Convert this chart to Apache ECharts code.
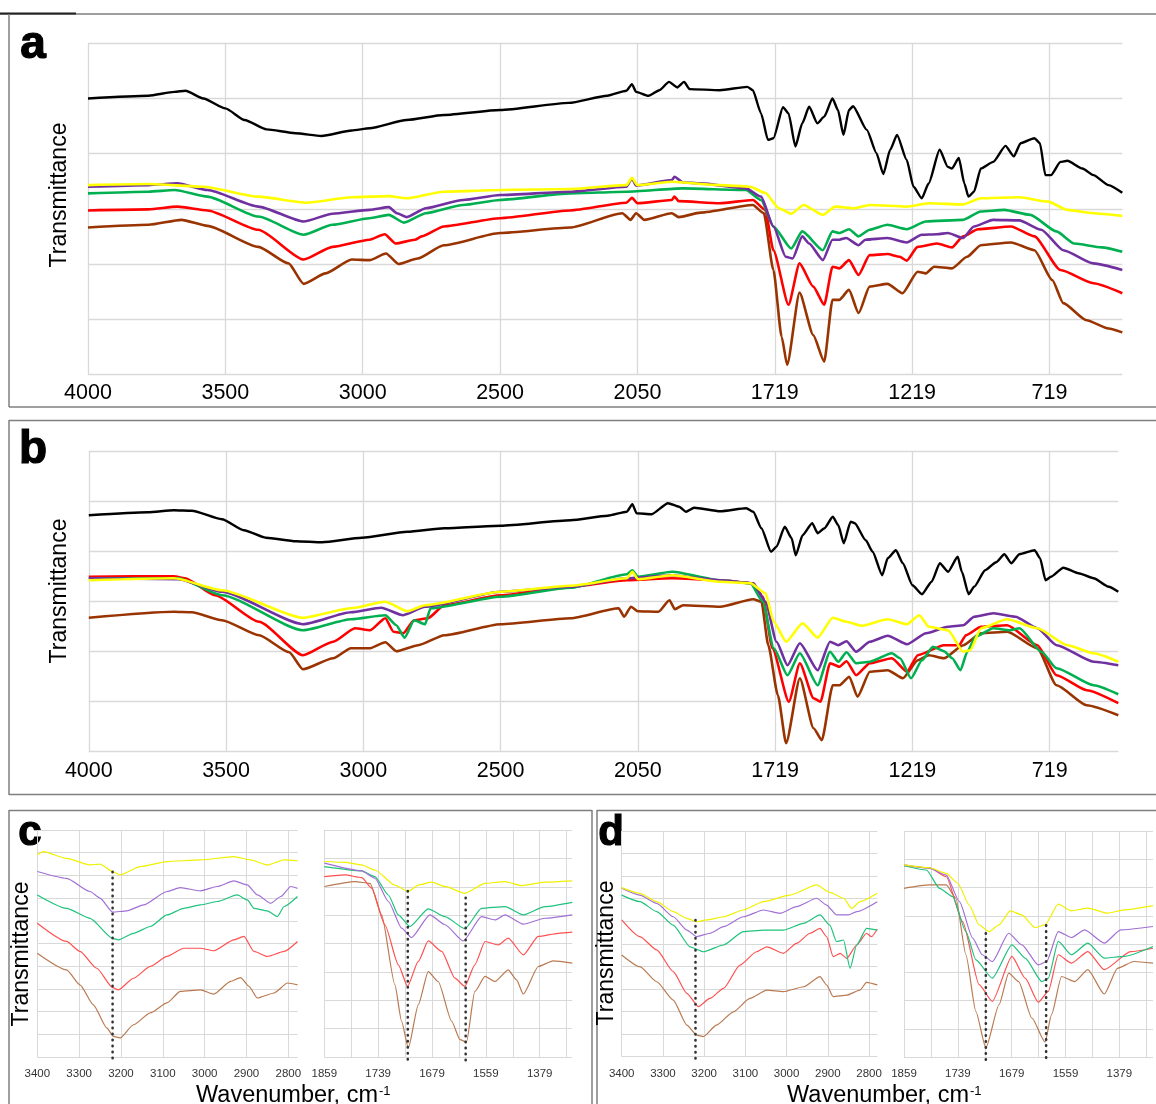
<!DOCTYPE html>
<html><head><meta charset="utf-8">
<script src="https://cdn.jsdelivr.net/npm/echarts@6/dist/echarts.min.js"></script>
<style>html,body{margin:0;padding:0;background:#fff}#c{width:1156px;height:1104px}</style>
</head><body><div id="c"></div>
<script>
// ---------- tick labels ----------
const mainTickLabels = ['4000','3500','3000','2500','2050','1719','1219','719'];
const zoomTickLabels = ['1859','','1739','','1679','','1559','','1379',''];

// ---------- panel a (x = tick position, y = grid units 0..6) ----------
const aBlack = [[0,5.0],[0.44,5.05],[0.63,5.12],[0.71,5.14],[0.84,5.0],[1.0,4.82],[1.14,4.61],[1.3,4.44],[1.51,4.37],[1.7,4.32],[1.92,4.42],[2.05,4.46],[2.32,4.61],[2.59,4.7],[3.0,4.79],[3.5,4.92],[3.78,5.05],[3.92,5.14],[3.96,5.26],[3.99,5.12],[4.08,5.05],[4.16,5.15],[4.23,5.3],[4.29,5.2],[4.34,5.3],[4.38,5.17],[4.6,5.15],[4.8,5.21],[4.84,5.15],[4.9,4.73],[4.95,4.25],[4.99,4.28],[5.06,4.84],[5.1,4.73],[5.15,4.13],[5.2,4.55],[5.25,4.85],[5.31,4.55],[5.36,4.67],[5.42,5.0],[5.46,4.79],[5.5,4.34],[5.54,4.79],[5.57,4.86],[5.67,4.43],[5.74,4.01],[5.79,3.63],[5.84,4.07],[5.89,4.34],[5.96,3.89],[6.01,3.4],[6.07,3.19],[6.12,3.46],[6.2,4.07],[6.26,3.76],[6.29,3.73],[6.34,3.92],[6.38,3.46],[6.41,3.22],[6.45,3.31],[6.5,3.73],[6.59,3.85],[6.68,4.14],[6.74,3.95],[6.79,4.19],[6.89,4.28],[6.93,4.19],[6.97,3.61],[7.01,3.61],[7.08,3.85],[7.13,3.87],[7.24,3.73],[7.32,3.61],[7.43,3.43],[7.53,3.29]];
const aYellow = [[0,3.43],[0.44,3.45],[0.84,3.4],[1.24,3.22],[1.59,3.11],[1.92,3.21],[2.19,3.23],[2.32,3.19],[2.59,3.31],[3.0,3.34],[3.51,3.36],[3.92,3.43],[3.96,3.56],[4.0,3.43],[4.25,3.49],[4.6,3.43],[4.82,3.4],[4.93,3.29],[5.03,3.01],[5.12,2.91],[5.21,3.07],[5.35,2.89],[5.44,3.04],[5.58,3.01],[5.69,3.07],[5.96,3.04],[6.12,3.1],[6.37,3.08],[6.5,3.19],[6.78,3.21],[6.99,3.13],[7.13,2.98],[7.32,2.92],[7.53,2.87]];
const aPurple = [[0,3.4],[0.44,3.43],[0.65,3.46],[0.87,3.34],[1.24,3.04],[1.57,2.77],[1.78,2.91],[2.05,2.98],[2.19,3.03],[2.25,2.92],[2.32,2.85],[2.46,3.01],[2.73,3.16],[3.0,3.25],[3.51,3.31],[3.92,3.4],[3.96,3.55],[3.99,3.42],[4.25,3.52],[4.27,3.58],[4.33,3.48],[4.46,3.46],[4.79,3.37],[4.9,3.22],[4.99,2.68],[5.08,2.13],[5.13,2.1],[5.2,2.5],[5.25,2.37],[5.35,2.07],[5.42,2.44],[5.47,2.44],[5.52,2.47],[5.61,2.34],[5.66,2.44],[5.82,2.47],[5.96,2.39],[6.07,2.53],[6.18,2.54],[6.26,2.56],[6.37,2.47],[6.45,2.68],[6.59,2.8],[6.78,2.79],[6.94,2.62],[7.1,2.25],[7.32,2.01],[7.53,1.89]];
const aGreen = [[0,3.28],[0.44,3.31],[0.63,3.34],[0.87,3.22],[1.24,2.86],[1.57,2.53],[1.78,2.71],[2.05,2.83],[2.19,2.89],[2.3,2.75],[2.46,2.92],[2.73,3.07],[3.0,3.16],[3.51,3.28],[3.92,3.31],[4.33,3.37],[4.79,3.34],[4.9,3.16],[4.99,2.68],[5.12,2.28],[5.2,2.59],[5.35,2.25],[5.42,2.59],[5.47,2.56],[5.54,2.63],[5.61,2.5],[5.69,2.62],[5.82,2.71],[5.96,2.63],[6.1,2.77],[6.37,2.8],[6.5,2.95],[6.67,2.98],[6.86,2.89],[7.05,2.59],[7.18,2.37],[7.38,2.3],[7.53,2.22]];
const aRed = [[0,2.97],[0.44,2.99],[0.65,3.04],[0.87,2.97],[1.24,2.62],[1.57,2.08],[1.78,2.31],[2.05,2.44],[2.16,2.54],[2.24,2.37],[2.38,2.44],[2.43,2.5],[2.59,2.68],[3.0,2.83],[3.51,2.97],[3.92,3.11],[3.96,3.2],[4.0,3.1],[4.25,3.16],[4.27,3.22],[4.3,3.14],[4.6,3.1],[4.84,3.16],[4.93,2.98],[4.99,2.25],[5.1,1.26],[5.18,2.01],[5.28,1.59],[5.36,1.26],[5.42,1.95],[5.47,1.92],[5.54,2.07],[5.61,1.8],[5.69,2.16],[5.82,2.18],[5.91,2.13],[5.96,2.06],[6.04,2.31],[6.18,2.37],[6.29,2.3],[6.37,2.5],[6.48,2.63],[6.72,2.68],[6.89,2.5],[7.08,1.89],[7.32,1.65],[7.53,1.47]];
const aBrown = [[0,2.66],[0.44,2.71],[0.68,2.8],[0.87,2.69],[1.24,2.31],[1.46,2.01],[1.57,1.64],[1.73,1.83],[1.92,2.08],[2.05,2.07],[2.17,2.19],[2.26,2.0],[2.4,2.1],[2.59,2.34],[3.0,2.56],[3.51,2.66],[3.89,2.92],[3.95,2.8],[3.99,2.92],[4.05,2.8],[4.25,2.92],[4.3,2.85],[4.46,2.93],[4.84,3.07],[4.92,2.92],[4.99,1.89],[5.05,0.68],[5.09,0.17],[5.18,1.48],[5.28,0.71],[5.36,0.23],[5.42,1.35],[5.47,1.35],[5.54,1.53],[5.61,1.11],[5.69,1.59],[5.82,1.64],[5.93,1.47],[6.04,1.86],[6.1,1.83],[6.16,1.95],[6.29,1.92],[6.4,2.13],[6.5,2.34],[6.72,2.39],[6.89,2.25],[7.02,1.71],[7.1,1.29],[7.27,0.98],[7.43,0.83],[7.53,0.76]];

// ---------- panel b ----------
const bBlack = [[0,4.73],[0.43,4.79],[0.62,4.83],[0.75,4.82],[0.97,4.65],[1.13,4.43],[1.29,4.28],[1.51,4.21],[1.7,4.19],[1.99,4.28],[2.32,4.4],[2.59,4.47],[3.0,4.52],[3.51,4.63],[3.78,4.72],[3.92,4.8],[3.96,4.95],[3.99,4.77],[4.1,4.75],[4.22,4.97],[4.3,4.9],[4.35,4.8],[4.41,4.88],[4.6,4.81],[4.79,4.87],[4.84,4.8],[4.9,4.47],[4.97,4.0],[5.01,4.1],[5.07,4.5],[5.12,4.27],[5.15,3.93],[5.2,4.33],[5.27,4.57],[5.31,4.37],[5.36,4.47],[5.42,4.7],[5.46,4.53],[5.5,4.17],[5.55,4.6],[5.58,4.57],[5.66,4.23],[5.71,4.0],[5.78,3.53],[5.82,3.87],[5.88,4.03],[5.93,3.77],[6.0,3.33],[6.07,3.15],[6.14,3.4],[6.2,3.77],[6.26,3.6],[6.33,3.9],[6.36,3.6],[6.41,3.15],[6.45,3.3],[6.53,3.63],[6.61,3.79],[6.67,3.95],[6.72,3.77],[6.78,3.95],[6.89,4.03],[6.93,3.87],[6.97,3.43],[7.01,3.5],[7.1,3.68],[7.21,3.57],[7.32,3.47],[7.43,3.3],[7.5,3.2]];
const bYellow = [[0,3.43],[0.62,3.47],[0.97,3.23],[1.56,2.68],[1.91,2.87],[2.16,3.0],[2.32,2.81],[2.45,2.93],[3.0,3.2],[3.51,3.32],[3.92,3.47],[3.96,3.6],[4.0,3.45],[4.25,3.53],[4.6,3.4],[4.82,3.37],[4.93,3.17],[4.99,2.6],[5.08,2.2],[5.2,2.57],[5.31,2.28],[5.42,2.68],[5.52,2.6],[5.63,2.52],[5.82,2.65],[5.96,2.55],[6.05,2.73],[6.12,2.5],[6.26,2.43],[6.37,2.0],[6.42,2.03],[6.5,2.47],[6.69,2.65],[6.91,2.47],[7.13,2.13],[7.32,1.97],[7.5,1.8]];
const bPurple = [[0,3.47],[0.65,3.45],[0.97,3.2],[1.56,2.55],[1.91,2.79],[2.13,2.88],[2.29,2.73],[2.45,2.9],[3.0,3.2],[3.51,3.3],[3.92,3.47],[4.25,3.53],[4.6,3.43],[4.84,3.37],[4.93,3.0],[5.01,2.2],[5.09,1.73],[5.18,2.17],[5.31,1.63],[5.4,2.2],[5.46,2.13],[5.52,2.21],[5.59,2.0],[5.69,2.2],[5.82,2.32],[5.96,2.15],[6.1,2.37],[6.26,2.5],[6.37,2.53],[6.45,2.7],[6.59,2.77],[6.75,2.7],[6.91,2.47],[7.05,2.13],[7.32,1.8],[7.5,1.73]];
const bGreen = [[0,3.47],[0.65,3.47],[0.97,3.13],[1.56,2.43],[1.91,2.65],[2.16,2.73],[2.24,2.53],[2.3,2.28],[2.37,2.63],[2.45,2.55],[2.49,2.87],[3.0,3.1],[3.51,3.28],[3.92,3.55],[3.96,3.63],[4.0,3.5],[4.25,3.6],[4.6,3.43],[4.82,3.37],[4.91,3.0],[4.99,2.07],[5.09,1.53],[5.18,1.97],[5.31,1.33],[5.4,2.0],[5.46,1.8],[5.52,1.99],[5.59,1.77],[5.69,1.8],[5.85,1.97],[5.91,1.87],[5.99,1.47],[6.07,1.83],[6.15,2.1],[6.23,2.01],[6.29,1.87],[6.35,1.63],[6.4,2.0],[6.46,2.3],[6.59,2.47],[6.71,2.43],[6.78,2.47],[6.94,2.0],[7.05,1.67],[7.32,1.33],[7.5,1.15]];
const bRed = [[0,3.5],[0.62,3.51],[0.7,3.47],[0.92,3.13],[1.24,2.6],[1.56,1.93],[1.78,2.2],[1.94,2.47],[2.05,2.43],[2.16,2.67],[2.22,2.4],[2.29,2.37],[2.37,2.63],[2.47,2.67],[2.59,2.93],[3.0,3.13],[3.51,3.3],[3.92,3.43],[4.25,3.47],[4.6,3.43],[4.84,3.37],[4.91,3.1],[4.98,2.07],[5.1,1.0],[5.18,1.77],[5.28,1.07],[5.33,1.0],[5.4,1.77],[5.47,1.7],[5.52,1.81],[5.59,1.53],[5.69,1.77],[5.85,1.87],[5.96,1.6],[6.04,1.93],[6.23,2.13],[6.34,2.13],[6.39,2.33],[6.5,2.5],[6.69,2.53],[6.91,2.13],[7.05,1.53],[7.27,1.23],[7.5,0.97]];
const bBrown = [[0,2.68],[0.62,2.8],[0.75,2.79],[0.97,2.63],[1.24,2.33],[1.46,1.99],[1.56,1.65],[1.78,1.87],[1.91,2.07],[2.05,2.07],[2.16,2.19],[2.24,2.01],[2.4,2.13],[2.59,2.33],[3.0,2.55],[3.51,2.67],[3.86,2.87],[3.9,2.7],[3.95,2.9],[4.0,2.81],[4.15,2.8],[4.23,3.03],[4.27,2.85],[4.33,2.93],[4.6,2.9],[4.84,3.05],[4.9,3.0],[4.95,2.13],[5.02,1.13],[5.08,0.17],[5.18,1.47],[5.28,0.47],[5.34,0.23],[5.42,1.33],[5.47,1.33],[5.54,1.5],[5.6,1.1],[5.69,1.6],[5.82,1.63],[5.93,1.47],[6.04,1.83],[6.12,1.93],[6.23,1.87],[6.37,2.13],[6.5,2.37],[6.69,2.4],[6.91,2.07],[7.05,1.33],[7.27,0.93],[7.5,0.73]];

// ---------- panel c, left (wavenumber, grid units 0..10) ----------
const cLYellow = [[3400,8.9],[3386,9.05],[3330,8.75],[3274,8.46],[3250,8.5],[3220,8.17],[3202,8.02],[3154,8.39],[3090,8.61],[3010,8.68],[2930,8.83],[2890,8.68],[2850,8.46],[2810,8.68],[2778,8.64]];
const cLPurple = [[3400,8.17],[3330,7.87],[3274,7.29],[3250,7.0],[3220,6.38],[3186,6.44],[3146,6.7],[3090,7.29],[3058,7.46],[3010,7.32],[2970,7.51],[2930,7.76],[2898,7.58],[2874,7.14],[2842,6.77],[2818,7.07],[2794,7.51],[2778,7.43]];
const cLGreen = [[3400,7.14],[3330,6.55],[3274,6.11],[3220,5.23],[3206,5.16],[3170,5.45],[3130,5.75],[3090,6.26],[3050,6.55],[3010,6.7],[2970,6.85],[2922,7.14],[2898,6.92],[2882,6.55],[2850,6.44],[2826,6.19],[2810,6.63],[2778,7.07]];
const cLRed = [[3400,5.89],[3330,5.09],[3298,4.65],[3258,3.91],[3220,3.06],[3206,2.96],[3170,3.47],[3130,3.99],[3090,4.43],[3050,4.79],[3010,4.79],[2978,4.68],[2930,5.16],[2906,5.31],[2882,4.65],[2850,4.43],[2810,4.65],[2778,5.09]];
const cLBrown = [[3400,4.57],[3330,3.84],[3298,3.18],[3266,2.3],[3234,1.28],[3218,0.91],[3202,0.84],[3170,1.42],[3130,1.94],[3090,2.38],[3058,2.89],[3010,2.96],[2978,2.77],[2938,3.33],[2914,3.5],[2894,3.11],[2874,2.6],[2834,2.82],[2802,3.26],[2778,3.18]];

// ---------- panel c, right (tick position, grid units 0..8) ----------
const cRYellow = [[0,6.89],[0.77,6.86],[1.39,6.77],[1.88,6.59],[2.62,6.06],[3.12,5.83],[3.49,6.06],[3.99,6.16],[4.48,6.01],[5.22,5.77],[5.97,6.12],[6.71,6.18],[7.33,6.04],[8.19,6.16],[9.21,6.21]];
const cRGreen = [[0,6.71],[1.39,6.56],[1.88,6.36],[2.38,5.71],[2.75,5.01],[3.18,4.6],[3.86,5.22],[4.48,4.95],[5.22,4.52],[5.84,5.24],[6.71,5.3],[7.39,5.01],[8.19,5.3],[9.21,5.45]];
const cRPurple = [[0,6.83],[1.39,6.56],[1.88,6.3],[2.38,5.48],[2.87,4.54],[3.24,4.21],[3.92,5.01],[4.48,4.66],[5.16,4.09],[5.84,4.95],[6.34,4.83],[6.71,5.01],[7.39,4.68],[8.19,4.89],[9.21,5.01]];
const cRRed = [[0,6.36],[0.77,6.42],[1.39,6.32],[1.76,5.95],[2.25,4.66],[2.75,3.25],[3.09,2.49],[3.49,3.37],[3.86,4.09],[4.36,3.72],[4.85,2.78],[5.22,2.49],[5.59,3.25],[5.97,4.07],[6.46,3.95],[6.83,4.19],[7.39,3.6],[7.95,4.25],[8.69,4.36],[9.21,4.4]];
const cRBrown = [[0,6.01],[1.14,6.18],[1.7,6.12],[2.13,5.01],[2.62,2.55],[2.87,1.26],[3.12,0.32],[3.49,1.84],[3.86,3.01],[4.23,2.66],[4.73,1.26],[5.04,0.61],[5.28,0.53],[5.59,2.31],[5.97,2.84],[6.34,2.66],[6.83,3.07],[7.14,2.72],[7.39,2.22],[7.95,3.19],[8.5,3.39],[9.21,3.31]];

// ---------- panel d, left ----------
const dLYellow = [[3400,7.49],[3356,7.24],[3315,6.87],[3275,6.43],[3242,6.13],[3218,5.98],[3194,6.06],[3153,6.2],[3105,6.5],[3056,6.87],[2992,7.16],[2927,7.61],[2895,7.28],[2862,7.02],[2842,6.57],[2822,6.87],[2780,7.24]];
const dLPurple = [[3400,7.46],[3356,7.16],[3315,6.79],[3275,6.2],[3242,5.61],[3218,5.32],[3186,5.47],[3153,5.76],[3105,6.2],[3056,6.5],[3016,6.35],[2976,6.65],[2927,7.02],[2903,6.72],[2879,6.28],[2850,6.28],[2830,6.43],[2780,6.87]];
const dLGreen = [[3400,7.16],[3356,6.87],[3315,6.43],[3275,5.83],[3234,4.87],[3202,4.65],[3153,4.95],[3105,5.54],[3056,5.61],[3008,5.61],[2959,5.91],[2919,6.28],[2895,5.83],[2879,5.1],[2862,5.17],[2846,3.91],[2830,4.95],[2806,5.69],[2780,5.61]];
const dLRed = [[3400,6.06],[3356,5.32],[3315,4.73],[3275,3.77],[3242,2.81],[3214,2.22],[3186,2.58],[3153,3.03],[3113,4.06],[3073,4.65],[3048,4.87],[3008,4.58],[2976,5.02],[2943,5.47],[2919,5.69],[2903,5.32],[2887,4.43],[2870,4.58],[2854,4.36],[2830,4.95],[2806,5.47],[2794,5.32],[2780,5.66]];
const dLBrown = [[3400,4.51],[3356,3.99],[3315,3.32],[3275,2.51],[3242,1.4],[3218,0.96],[3202,0.89],[3170,1.4],[3129,1.99],[3089,2.58],[3048,2.95],[3008,2.88],[2959,3.1],[2919,3.55],[2903,3.18],[2887,2.66],[2854,2.73],[2822,2.95],[2806,3.29],[2780,3.18]];

// ---------- panel d, right ----------
const dRYellow = [[0,6.8],[0.95,6.7],[1.57,6.5],[2.0,6.15],[2.42,5.38],[2.79,4.68],[3.16,4.44],[3.53,4.68],[3.95,5.17],[4.38,5.03],[4.87,4.58],[5.24,4.68],[5.73,5.41],[6.22,5.17],[6.83,5.27],[7.56,5.09],[8.18,5.21],[9.25,5.36]];
const dRPurple = [[0,6.8],[0.95,6.68],[1.57,6.44],[2.06,5.5],[2.55,4.21],[2.91,3.62],[3.28,3.38],[3.89,4.38],[4.38,3.97],[4.99,3.26],[5.3,3.38],[5.73,4.44],[6.22,4.23],[6.71,4.5],[7.44,4.03],[8.05,4.5],[9.25,4.62]];
const dRGreen = [[0,6.77],[0.83,6.62],[1.32,5.97],[1.81,5.68],[2.3,4.44],[2.67,3.44],[3.28,2.79],[4.01,3.97],[4.5,3.5],[5.12,2.67],[5.36,2.79],[5.73,4.09],[6.22,3.62],[6.83,4.03],[7.44,3.5],[8.18,3.56],[9.25,3.91]];
const dRRed = [[0,6.77],[0.95,6.7],[1.57,6.38],[2.18,4.79],[2.79,2.56],[3.28,1.97],[4.01,3.56],[4.5,2.79],[4.99,1.94],[5.36,2.32],[5.73,3.62],[6.22,3.32],[6.83,3.73],[7.44,3.09],[8.42,3.73],[9.25,3.85]];
const dRBrown = [[0,5.97],[0.95,6.09],[1.57,6.09],[1.93,5.62],[2.3,3.62],[2.67,1.61],[3.04,0.32],[3.53,1.85],[3.89,2.97],[4.26,2.67],[4.75,1.38],[5.24,0.53],[5.48,1.5],[5.85,2.85],[6.34,2.67],[6.83,3.09],[7.44,2.23],[7.93,3.14],[8.54,3.38],[9.25,3.32]];

// ---------- dotted marker lines: [x, top] ----------
const cLMarks = [[3220,8.16]];
const cRMarks = [[3.10,5.85],[5.25,5.61]];
const dLMarks = [[3221,6.06]];
const dRMarks = [[3.04,4.38],[5.28,4.66]];

// ---------- styling ----------
const mainColors = {black:'#000000', yellow:'#ffff00', purple:'#7030a0', green:'#00b050', red:'#ff0000', brown:'#993300'};
const subColors = {yellow:'#f0f000', purple:'#a070d4', green:'#1ec27c', red:'#ff5050', brown:'#b97a52'};
const GRID = '#d9d9d9';
const SANS = '"Liberation Sans", Arial, sans-serif';

const isInt = v => Math.abs(v - Math.round(v)) < 1e-6;

const grids = [
  {left:88, top:43.3, width:1034.3, height:331},
  {left:88.8, top:451.7, width:1029.5, height:300},
  {left:37.3, top:830, width:260.4, height:227},
  {left:324.3, top:830, width:248, height:227},
  {left:621.7, top:831, width:255.6, height:225.7},
  {left:904, top:831, width:251.9, height:226}
];

function mainX(idx, max) {
  return {gridIndex:idx, type:'value', min:0, max:max, interval:1,
    axisLine:{show:false}, axisTick:{show:false},
    splitLine:{show:true, showMaxLine:false, lineStyle:{color:GRID, width:1.3}},
    axisLabel:{fontFamily:SANS, fontSize:21.5, color:'#000', margin:8,
      formatter: v => isInt(v) ? (mainTickLabels[Math.round(v)] || '') : ''}};
}
function leftX(idx, min) {
  return {gridIndex:idx, type:'value', inverse:true, min:min, max:3400, minInterval:100, maxInterval:100,
    axisLine:{show:false}, axisTick:{show:false},
    splitLine:{show:true, showMinLine:false, lineStyle:{color:GRID, width:1}},
    axisLabel:{fontFamily:SANS, fontSize:11.5, color:'#333', margin:11,
      formatter: v => (Math.abs(v % 100) < 1e-6) ? String(v) : ''}};
}
function rightX(idx, max) {
  return {gridIndex:idx, type:'value', min:0, max:max, interval:1,
    axisLine:{show:false}, axisTick:{show:false},
    splitLine:{show:true, showMaxLine:false, lineStyle:{color:GRID, width:1}},
    axisLabel:{fontFamily:SANS, fontSize:11.5, color:'#333', margin:11,
      formatter: v => isInt(v) ? (zoomTickLabels[Math.round(v)] || '') : ''}};
}
function yAx(idx, max, w) {
  return {gridIndex:idx, type:'value', min:0, max:max, interval:1,
    axisLabel:{show:false}, axisLine:{show:false}, axisTick:{show:false},
    splitLine:{show:true, lineStyle:{color:GRID, width:w}}};
}

const series = [];
function addLine(g, data, color, width) {
  series.push({type:'line', xAxisIndex:g, yAxisIndex:g, data:data, symbol:'none', showSymbol:false,
    smooth:0.2, smoothMonotone:'x',
    silent:true, animation:false, lineStyle:{color:color, width:width}});
}
function addMarks(g, marks) {
  marks.forEach(m => series.push({type:'line', xAxisIndex:g, yAxisIndex:g, clip:false,
    data:[[m[0], m[1]], [m[0], -0.12]], symbol:'none', silent:true, animation:false, z:5,
    lineStyle:{color:'#333', width:2.6, type:[0.5,5.5], cap:'round'}}));
}

[[0, aBrown, aRed, aGreen, aPurple, aYellow, aBlack], [1, bBrown, bRed, bGreen, bPurple, bYellow, bBlack]].forEach(p => {
  const g = p[0];
  addLine(g, p[1], mainColors.brown, 2.6);
  addLine(g, p[2], mainColors.red, 2.6);
  addLine(g, p[3], mainColors.green, 2.6);
  addLine(g, p[4], mainColors.purple, 2.6);
  addLine(g, p[5], mainColors.yellow, 2.6);
  addLine(g, p[6], mainColors.black, 2.4);
});
[[2, cLBrown, cLRed, cLGreen, cLPurple, cLYellow], [3, cRBrown, cRRed, cRGreen, cRPurple, cRYellow],
 [4, dLBrown, dLRed, dLGreen, dLPurple, dLYellow], [5, dRBrown, dRRed, dRGreen, dRPurple, dRYellow]].forEach(p => {
  const g = p[0];
  addLine(g, p[1], subColors.brown, 1.2);
  addLine(g, p[2], subColors.red, 1.2);
  addLine(g, p[3], subColors.green, 1.2);
  addLine(g, p[4], subColors.purple, 1.2);
  addLine(g, p[5], subColors.yellow, 1.2);
});
addMarks(2, cLMarks); addMarks(3, cRMarks); addMarks(4, dLMarks); addMarks(5, dRMarks);

const BORDER = '#7f7f7f';
function ln(x1,y1,x2,y2,c,w){return {type:'line', silent:true, shape:{x1,y1,x2,y2}, style:{stroke:c||BORDER, lineWidth:w||1.5}};}
function txt(x,y,text,font,opts){return Object.assign({type:'text', silent:true, x:x, y:y, style:Object.assign({text:text, font:font, fill:'#000', textAlign:'center', textVerticalAlign:'middle'}, (opts&&opts.style)||{})}, (opts&&opts.el)||{});}

const graphic = [
  ln(0,14,1156,14), ln(0,13.5,76,13.5,'#222',2), ln(9,14,9,407), ln(9,407,1156,407),
  ln(9,420.5,1156,420.5), ln(9,420,9,795), ln(9,794.5,1156,794.5),
  ln(9,810.5,592,810.5), ln(9,810,9,1104), ln(592,810,592,1104),
  ln(597,810.5,1156,810.5), ln(597,810,597,1104),
  txt(33,45,'a','bold 46px '+SANS, {style:{stroke:'#000', lineWidth:1.2}}),
  txt(33,450,'b','bold 46px '+SANS, {style:{stroke:'#000', lineWidth:1.2}}),
  txt(30,833,'c','bold 42px '+SANS, {style:{stroke:'#000', lineWidth:1.2}}),
  txt(611,833,'d','bold 42px '+SANS, {style:{stroke:'#000', lineWidth:1.2}}),
  txt(60,195,'Transmittance','23px '+SANS, {el:{rotation:Math.PI/2}}),
  txt(60,591,'Transmittance','23px '+SANS, {el:{rotation:Math.PI/2}}),
  txt(22,954,'Transmittance','23px '+SANS, {el:{rotation:Math.PI/2}}),
  txt(607,953,'Transmittance','23px '+SANS, {el:{rotation:Math.PI/2}}),
  txt(196,1096,'Wavenumber, cm','23.5px '+SANS, {style:{textAlign:'left'}}),
  txt(379,1091,'-1','13px '+SANS, {style:{textAlign:'left'}}),
  txt(787,1096,'Wavenumber, cm','23.5px '+SANS, {style:{textAlign:'left'}}),
  txt(970,1091,'-1','13px '+SANS, {style:{textAlign:'left'}})
];

const chart = echarts.init(document.getElementById('c'), null, {renderer:'canvas'});
chart.setOption({
  backgroundColor:'#ffffff',
  animation:false,
  grid: grids,
  xAxis: [mainX(0,7.53), mainX(1,7.5), leftX(2,2777.5), rightX(3,9.21), leftX(4,2780), rightX(5,9.25)],
  yAxis: [yAx(0,6,1.3), yAx(1,6,1.3), yAx(2,10,1), yAx(3,8,1), yAx(4,10,1), yAx(5,8,1)],
  series: series,
  graphic: graphic
});
</script>
</body></html>
